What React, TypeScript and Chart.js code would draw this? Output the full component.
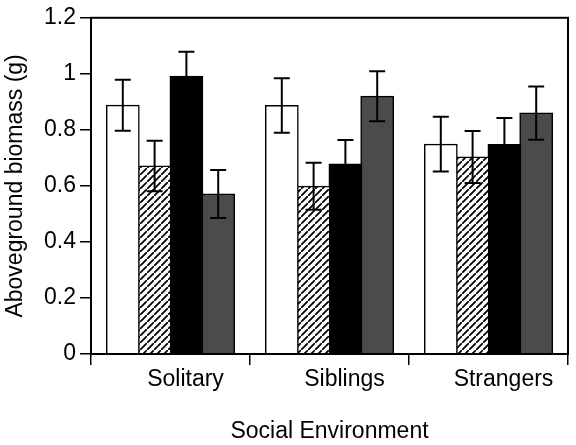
import React, { useEffect, useRef } from "react";
import { Chart, registerables } from "chart.js";

Chart.register(...registerables);

const categories = ["Solitary", "Siblings", "Strangers"];
const yTicks = [0, 0.2, 0.4, 0.6, 0.8, 1, 1.2];

const whiteValues = [0.888, 0.887, 0.749];
const whiteErrors = [0.091, 0.097, 0.098];
const hatchedValues = [0.671, 0.599, 0.703];
const hatchedErrors = [0.09, 0.084, 0.093];
const blackValues = [0.991, 0.678, 0.748];
const blackErrors = [0.088, 0.086, 0.094];
const grayValues = [0.571, 0.92, 0.86];
const grayErrors = [0.086, 0.089, 0.095];

function makeHatch(): CanvasPattern | string {
  const c = document.createElement("canvas");
  const s = 7;
  c.width = s;
  c.height = s;
  const g = c.getContext("2d");
  if (!g) return "#fff";
  g.fillStyle = "#fff";
  g.fillRect(0, 0, s, s);
  g.strokeStyle = "#000";
  g.lineWidth = 1.8;
  g.beginPath();
  g.moveTo(-1, s + 1);
  g.lineTo(s + 1, -1);
  g.moveTo(-2, 1);
  g.lineTo(1, -2);
  g.moveTo(s - 1, s + 2);
  g.lineTo(s + 2, s - 1);
  g.stroke();
  const p = g.createPattern(c, "repeat");
  return p || "#fff";
}

const errorBarPlugin = {
  id: "errorBars",
  afterDatasetsDraw(chart: any) {
    const ctx = chart.ctx;
    const yScale = chart.scales.y;
    ctx.save();
    ctx.strokeStyle = "#000";
    ctx.lineWidth = 2;
    chart.data.datasets.forEach((ds: any, i: number) => {
      const meta = chart.getDatasetMeta(i);
      meta.data.forEach((bar: any, j: number) => {
        const v = ds.data[j];
        const e = ds.errors[j];
        const x = bar.x;
        const yt = yScale.getPixelForValue(v + e);
        const yb = yScale.getPixelForValue(v - e);
        ctx.beginPath();
        ctx.moveTo(x, yt);
        ctx.lineTo(x, yb);
        ctx.moveTo(x - 8, yt);
        ctx.lineTo(x + 8, yt);
        ctx.moveTo(x - 8, yb);
        ctx.lineTo(x + 8, yb);
        ctx.stroke();
      });
    });
    ctx.restore();
  },
};

const framePlugin = {
  id: "frame",
  afterDraw(chart: any) {
    const { ctx, chartArea } = chart;
    ctx.save();
    ctx.strokeStyle = "#000";
    ctx.lineWidth = 2;
    ctx.strokeRect(chartArea.left, chartArea.top, chartArea.right - chartArea.left, chartArea.bottom - chartArea.top);
    ctx.restore();
  },
};

export default function App() {
  const ref = useRef<HTMLCanvasElement | null>(null);
  useEffect(() => {
    if (!ref.current) return;
    const font = { family: "'Liberation Sans', Arial, sans-serif", size: 23 };
    const common = {
      borderColor: "#000",
      borderWidth: 1.5,
      categoryPercentage: 0.8,
      barPercentage: 1.03,
      inflateAmount: 0.5,
    };
    const chart = new Chart(ref.current, {
      type: "bar",
      data: {
        labels: categories,
        datasets: [
          { ...common, label: "white", data: whiteValues, errors: whiteErrors, backgroundColor: "#ffffff" } as any,
          { ...common, label: "hatched", data: hatchedValues, errors: hatchedErrors, backgroundColor: makeHatch() } as any,
          { ...common, label: "black", data: blackValues, errors: blackErrors, backgroundColor: "#000000" } as any,
          { ...common, label: "gray", data: grayValues, errors: grayErrors, backgroundColor: "#4b4b4b" } as any,
        ],
      },
      options: {
        animation: false,
        responsive: false,
        maintainAspectRatio: false,
        layout: { padding: { left: 0, top: 13, right: 8, bottom: 0 } },
        plugins: { legend: { display: false }, tooltip: { enabled: false } },
        scales: {
          x: {
            offset: true,
            grid: { drawOnChartArea: false, drawTicks: true, tickLength: 11, offset: true, color: "#000", lineWidth: 1.5 },
            border: { display: false },
            ticks: { font, color: "#000", labelOffset: 15, padding: 1, maxRotation: 0 },
            title: { display: true, text: "Social Environment", font, color: "#000", padding: { top: 0, bottom: 0 } },
            afterFit: (s: any) => { s.height = 91; },
          },
          y: {
            min: 0,
            max: 1.2,
            afterBuildTicks: (s: any) => { s.ticks = yTicks.map((v) => ({ value: v })); },
            grid: { drawOnChartArea: false, drawTicks: true, tickLength: 11, color: "#000", lineWidth: 1.5 },
            border: { display: false },
            ticks: { font, color: "#000", padding: 4, callback: (v: any) => String(Math.round(Number(v) * 10) / 10) },
            title: { display: true, text: "Aboveground biomass (g)", font, color: "#000", padding: { top: 2, bottom: 0 } },
            afterFit: (s: any) => { s.width = 91; },
          },
        },
      },
      plugins: [errorBarPlugin, framePlugin],
    } as any);
    return () => chart.destroy();
  }, []);
  return (
    <div style={{ position: "fixed", left: 0, top: 0, width: 576, height: 445, background: "#fff" }}>
      <canvas ref={ref} width={576} height={445} style={{ width: 576, height: 445, display: "block" }} />
    </div>
  );
}
